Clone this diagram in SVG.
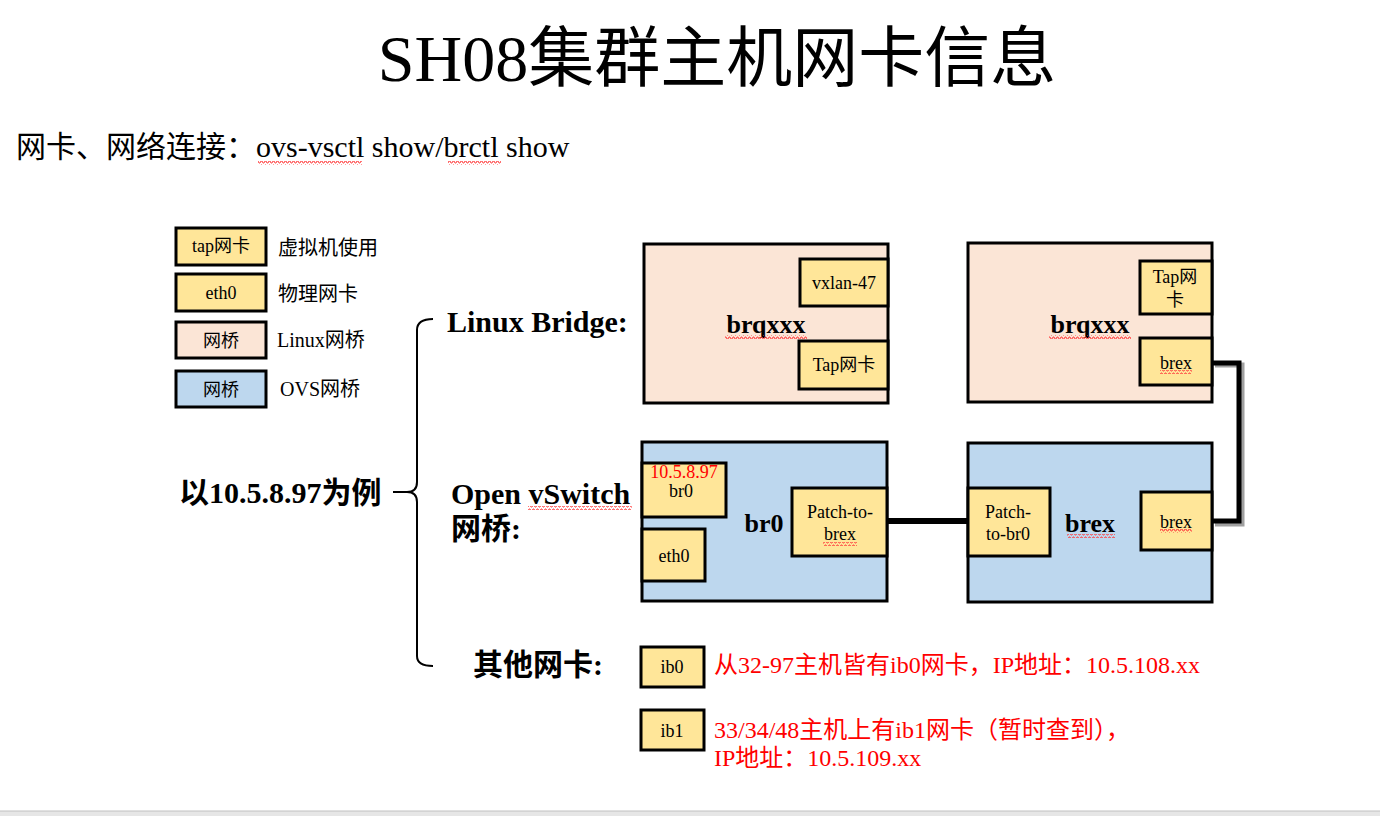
<svg xmlns="http://www.w3.org/2000/svg" width="1380" height="816" viewBox="0 0 1380 816">
<style>
text{font-family:"Liberation Serif","Noto Sans CJK SC",serif;fill:#000}
.t{font-size:66px}
.sub{font-size:30px}
.lg{font-size:20px}
.sm{font-size:18px;text-anchor:middle}
.b{font-weight:bold}
.h{font-size:30px;font-weight:bold}
.big{font-size:26px;font-weight:bold;text-anchor:middle}
.red{fill:#ff0000}
.r{font-size:24px;fill:#ff0000}
.tap{fill:#ffe699;stroke:#000;stroke-width:3}
.lin{fill:#fbe5d6;stroke:#000;stroke-width:3}
.ovs{fill:#bdd7ee;stroke:#000;stroke-width:3}
.wave{fill:none;stroke:#ff4040;stroke-width:1}
</style>
<defs>
<pattern id="wv" width="4" height="4" patternUnits="userSpaceOnUse"><path d="M0 3 L1 1 L2 1 L3 3 L4 3" class="wave"/></pattern>
</defs>
<rect width="1380" height="816" fill="#fff"/>
<rect x="0" y="811" width="1380" height="5" fill="#e6e6e6"/>
<line x1="0" y1="811" x2="1380" y2="811" stroke="#c0c0c0" stroke-width="1"/>

<text class="t" x="717" y="81" text-anchor="middle">SH08集群主机网卡信息</text>
<text class="sub" x="16" y="157">网卡、网络连接：ovs-vsctl show/brctl show</text>

<g id="legend">
<g id="lg-tap"><rect class="tap" x="176" y="228" width="90" height="37"/><text class="sm" x="221" y="252">tap网卡</text><text class="lg" x="278" y="255">虚拟机使用</text></g>
<g id="lg-eth"><rect class="tap" x="176" y="274" width="90" height="37"/><text class="sm" x="221" y="299">eth0</text><text class="lg" x="278" y="301">物理网卡</text></g>
<g id="lg-lin"><rect class="lin" x="176" y="322" width="90" height="36"/><text class="sm" x="221" y="347">网桥</text><text class="lg" x="277" y="347">Linux网桥</text></g>
<g id="lg-ovs"><rect class="ovs" x="176" y="371" width="90" height="36"/><text class="sm" x="221" y="396">网桥</text><text class="lg" x="280" y="396">OVS网桥</text></g>
</g>

<g id="example"><text class="b" x="179" y="503" style="font-size:30px">以10.5.8.97为例</text></g>
<g id="bracket"><path d="M433 319 Q417 319 417 330 L417 482 Q417 492 407 492 L393 492 M407 492 Q417 492 417 502 L417 656 Q417 666 433 666" fill="none" stroke="#000" stroke-width="2"/></g>
<g id="labels">
<text class="h" x="447" y="332">Linux Bridge:</text>
<text class="h" x="451" y="504">Open vSwitch</text>
<text class="h" x="451" y="539">网桥:</text>
<text class="h" x="473" y="675">其他网卡:</text>
</g>

<g id="brq1">
<rect class="lin" x="644" y="244" width="244" height="159"/>
<text class="big" x="766" y="333">brqxxx</text>
<g id="vxlan"><rect class="tap" x="800" y="259" width="88" height="47"/><text class="sm" x="844" y="289">vxlan-47</text></g>
<g id="tap1"><rect class="tap" x="799" y="341" width="89" height="48"/><text class="sm" x="844" y="371">Tap网卡</text></g>
</g>

<g id="brq2">
<rect class="lin" x="968" y="243" width="244" height="159"/>
<text class="big" x="1090" y="333">brqxxx</text>
<g id="tap2"><rect class="tap" x="1140" y="261" width="72" height="53"/><text class="sm" x="1175" y="283">Tap网</text><text class="sm" x="1175" y="306">卡</text></g>
<g id="brexport1"><rect class="tap" x="1140" y="338" width="72" height="47"/><text class="sm" x="1176" y="369">brex</text></g>
</g>

<g id="br0">
<rect class="ovs" x="642" y="442" width="245" height="159"/>
<text class="big" x="764" y="532">br0</text>
<g id="br0port"><rect class="tap" x="642" y="463" width="84" height="54"/><text class="sm red" x="684" y="478">10.5.8.97</text><text class="sm" x="681" y="497">br0</text></g>
<g id="eth0"><rect class="tap" x="642" y="529" width="63" height="52"/><text class="sm" x="674" y="562">eth0</text></g>
<g id="patchbrex"><rect class="tap" x="792" y="488" width="95" height="68"/><text class="sm" x="840" y="518">Patch-to-</text><text class="sm" x="840" y="540">brex</text></g>
</g>

<g id="brex">
<rect class="ovs" x="968" y="443" width="244" height="159"/>
<text class="big" x="1090" y="532">brex</text>
<g id="patchbr0"><rect class="tap" x="968" y="488" width="82" height="68"/><text class="sm" x="1008" y="518">Patch-</text><text class="sm" x="1008" y="540">to-br0</text></g>
<g id="brexport2"><rect class="tap" x="1141" y="492" width="71" height="58"/><text class="sm" x="1176" y="528">brex</text></g>
</g>

<g id="connectors">
<line x1="888" y1="521" x2="967" y2="521" stroke="#000" stroke-width="6"/>
<path d="M1214 364 L1241 364 L1241 523 L1214 523" fill="none" stroke="#a0a0a0" stroke-width="5" transform="translate(1,1)"/>
<path d="M1213 363 L1239 363 L1239 521 L1213 521" fill="none" stroke="#000" stroke-width="5"/>
</g>

<g id="ib0"><rect class="tap" x="641" y="647" width="63" height="40"/><text class="sm" x="672" y="673">ib0</text></g>
<g id="ib1"><rect class="tap" x="641" y="710" width="63" height="40"/><text class="sm" x="672" y="737">ib1</text></g>
<g id="notes">
<text class="r" x="714" y="673">从32-97主机皆有ib0网卡，IP地址：10.5.108.xx</text>
<text class="r" x="714" y="738">33/34/48主机上有ib1网卡（暂时查到），</text>
<text class="r" x="714" y="766">IP地址：10.5.109.xx</text>
</g>

<g id="spellmarks">
<rect x="258" y="161" width="104" height="4" fill="url(#wv)"/>
<rect x="448" y="161" width="53" height="4" fill="url(#wv)"/>
<rect x="725" y="335" width="82" height="4" fill="url(#wv)"/>
<rect x="1049" y="335" width="82" height="4" fill="url(#wv)"/>
<rect x="528" y="506" width="104" height="4" fill="url(#wv)"/>
<rect x="1160" y="370" width="32" height="4" fill="url(#wv)"/>
<rect x="1160" y="529" width="32" height="4" fill="url(#wv)"/>
<rect x="1067" y="534" width="48" height="4" fill="url(#wv)"/>
<rect x="823" y="542" width="34" height="4" fill="url(#wv)"/>
</g>
</svg>
